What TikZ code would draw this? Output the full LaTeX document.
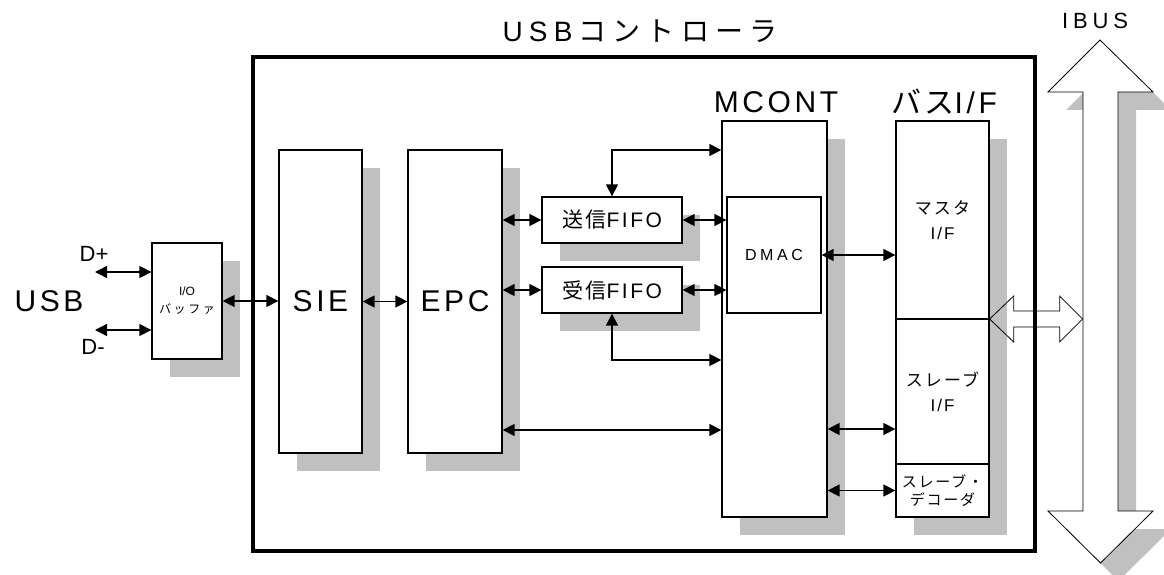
\documentclass[tikz,border=0pt]{standalone}
\usepackage{fontspec}
\setmainfont{Liberation Sans}
\newfontfamily\jpfont{Noto Sans CJK JP}
\newfontfamily\latinsp{Liberation Sans}[LetterSpace=12]
\newfontfamily\jpsp{Noto Sans CJK JP}[LetterSpace=12]
\newcommand{\kn}[1]{{\jpsp #1}}
\newcommand{\ls}{\kern0.22em}
\usetikzlibrary{arrows.meta,shadows}
\definecolor{shadowgray}{RGB}{192,192,192}

\begin{document}
\begin{tikzpicture}[x=1pt,y=-1pt,>={Triangle[length=12pt,width=12pt]},
  blk/.style={draw,line width=1.3pt,fill=white,inner sep=0pt},
  shd/.style={drop shadow={shadow xshift=18pt,shadow yshift=-18pt,fill=shadowgray,opacity=1,draw=none}},
  conn/.style={<->,line width=1.4pt},
  lbl/.style={font=\fontsize{22}{26}\selectfont},
  bigtxt/.style={font=\latinsp\fontsize{30}{34}\selectfont},
  fifotxt/.style={font=\latinsp\fontsize{21}{25}\selectfont},
  smtxt/.style={font=\latinsp\fontsize{17}{25}\selectfont,align=center}]
  \useasboundingbox (0,0) rectangle (1164,575);
  % controller frame
  \node[draw,line width=4pt,minimum width=782pt,minimum height=494pt] (ctrl) at (644,304) {};
  \node[font=\fontsize{28}{32}\selectfont] (title) at (640,31)
    {U\ls S\ls B\ls{\jpfont コ\ls ン\ls ト\ls ロ\ls ー\ls ラ}};
  % IBUS
  \draw[fill=white,line width=0.8pt,drop shadow={shadow xshift=18pt,shadow yshift=-18pt,fill=shadowgray,opacity=1,draw=none}]
    (1100,40) -- (1153,92) -- (1118,92) -- (1118,511) -- (1153,511) -- (1100.5,563)
    -- (1048,511) -- (1083,511) -- (1083,92) -- (1048,92) -- cycle;
  \node[font=\fontsize{22}{26}\selectfont] (ibus) at (1095,21) {I\ls B\ls U\ls S};
  % USB side
  \node[bigtxt] (usb) at (49,301) {USB};
  \node[lbl] (dp) at (94,254) {D+};
  \node[lbl] (dm) at (93,347) {D-};
  \node[blk,shd,minimum width=70pt,minimum height=116pt,align=center,
    font=\fontsize{12}{18}\selectfont] (iobuf) at (187,301)
    {I/O\\{\jpfont バ\ls ッ\ls フ\ls ァ}};
  % blocks
  \node[blk,shd,minimum width=83pt,minimum height=303pt,bigtxt] (sie) at (320.5,301.5) {SIE};
  \node[blk,shd,minimum width=94pt,minimum height=303pt,bigtxt] (epc) at (455,301.5) {EPC};
  \node[blk,shd,minimum width=140pt,minimum height=46pt,fifotxt] (txfifo) at (612,220) {\kn{送信}FIFO};
  \node[blk,shd,minimum width=140pt,minimum height=46pt,fifotxt] (rxfifo) at (612,290) {\kn{受信}FIFO};
  \node[blk,shd,minimum width=105pt,minimum height=396pt] (mcont) at (774.5,319) {};
  \node[blk,minimum width=94pt,minimum height=116pt,
    font=\fontsize{16}{20}\selectfont] (dmac) at (774,255) {D\ls M\ls A\ls C};
  \node[bigtxt] (mcontlbl) at (776,102) {MCONT};
  % bus I/F
  \node[blk,shd,minimum width=93pt,minimum height=396pt] (busif) at (942.5,319) {};
  \node[blk,smtxt,minimum width=93pt,minimum height=198pt] (master) at (942.5,220) {\kn{マスタ}\\I/F};
  \node[blk,smtxt,minimum width=93pt,minimum height=145pt] (slave) at (942.5,391.5) {\kn{スレーブ}\\I/F};
  \node[blk,minimum width=93pt,minimum height=53pt,align=center,
    font=\latinsp\fontsize{15}{18}\selectfont] (decoder) at (942.5,490.5) {\kn{スレーブ・}\\\kn{デコーダ}};
  \node[bigtxt] (buslbl) at (944,102) {\kn{バス}I/F};
  % connectors
  \coordinate (dplus) at (95,272);
  \coordinate (dminus) at (95,330);
  \coordinate (txbend) at (612,150);
  \coordinate (rxbend) at (612,360);
  \coordinate (epcbus) at (0,430);
  \coordinate (slvbus) at (0,429);
  \draw[conn] (dplus) -- (iobuf.west |- dplus);
  \draw[conn] (dminus) -- (iobuf.west |- dminus);
  \draw[conn] (iobuf.east) -- (sie.west |- iobuf.east);
  \draw[conn] (sie.east) -- (epc.west);
  \draw[conn] (epc.east |- txfifo) -- (txfifo.west);
  \draw[conn] (epc.east |- rxfifo) -- (rxfifo.west);
  \draw[conn] (txfifo.east) -- (dmac.west |- txfifo.east);
  \draw[conn] (rxfifo.east) -- (dmac.west |- rxfifo.east);
  \draw[conn] (txfifo.north) |- (mcont.west |- txbend);
  \draw[conn] (rxfifo.south) |- (mcont.west |- rxbend);
  \draw[conn] (epc.east |- epcbus) -- (mcont.west |- epcbus);
  \draw[conn] (dmac.east) -- (master.west |- dmac.east);
  \draw[conn] (mcont.east |- slvbus) -- (slave.west |- slvbus);
  \draw[conn] (mcont.east |- decoder) -- (decoder.west);
  % bus I/F <-> IBUS
  \draw[line width=0.8pt] (busif.east) -- ++(24,-23) -- ++(0,15) -- ++(46,0) -- ++(0,-15) -- ++(23,23)
    -- ++(-23,23) -- ++(0,-15) -- ++(-46,0) -- ++(0,15) -- cycle;
\end{tikzpicture}
\end{document}
